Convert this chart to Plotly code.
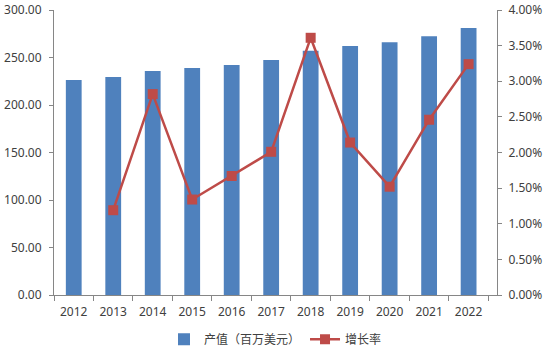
import plotly.graph_objects as go

years = ["2012", "2013", "2014", "2015", "2016", "2017", "2018", "2019", "2020", "2021", "2022"]
output_value = [226.3, 229.5, 235.8, 239.0, 242.2, 247.3, 257.0, 262.0, 266.0, 272.5, 281.0]
growth_years = ["2013", "2014", "2015", "2016", "2017", "2018", "2019", "2020", "2021", "2022"]
growth_rate = [0.0119, 0.0282, 0.0134, 0.0167, 0.0201, 0.0361, 0.0214, 0.0152, 0.0246, 0.0324]

font_family = "Noto Sans, Noto Sans CJK SC, sans-serif"
axis_color = "#868686"

fig = go.Figure()
fig.add_trace(go.Bar(
    x=years, y=output_value, name="产值（百万美元）",
    marker=dict(color="#4F81BD", line=dict(width=0)),
    yaxis="y",
))
fig.add_trace(go.Scatter(
    x=growth_years, y=growth_rate, name="增长率",
    mode="lines+markers",
    line=dict(color="#BE4B48", width=2.5),
    marker=dict(symbol="square", size=10, color="#BE4B48"),
    yaxis="y2",
))

fig.update_layout(
    width=543, height=354,
    margin=dict(l=54, r=46, t=10, b=59, autoexpand=False),
    paper_bgcolor="white", plot_bgcolor="white",
    font=dict(family=font_family, size=12, color="#404040"),
    bargap=0.6,
    showlegend=True,
    legend=dict(orientation="h", x=0.5, xanchor="center", y=-0.155, yanchor="middle",
                font=dict(size=12, color="#404040"), itemwidth=30, tracegroupgap=0),
    xaxis=dict(
        type="category", showline=True, linecolor=axis_color, linewidth=1,
        ticks="outside", tickson="boundaries", ticklen=5, tickcolor=axis_color,
        showgrid=False, tickfont=dict(size=12, color="#404040"), ticklabelstandoff=6,
    ),
    yaxis=dict(
        range=[0, 300], dtick=50, tickformat=".2f",
        showline=True, linecolor=axis_color, linewidth=1,
        ticks="outside", ticklen=4, tickcolor=axis_color,
        showgrid=False, zeroline=False, tickfont=dict(size=12, color="#404040"),
        ticklabelstandoff=5,
    ),
    yaxis2=dict(
        range=[0, 0.04], dtick=0.005, tickformat=".2%",
        overlaying="y", side="right",
        showline=True, linecolor=axis_color, linewidth=1,
        ticks="outside", ticklen=4, tickcolor=axis_color,
        showgrid=False, zeroline=False, tickfont=dict(size=12, color="#404040"),
        ticklabelstandoff=4,
    ),
)

fig.write_html("out.html")
